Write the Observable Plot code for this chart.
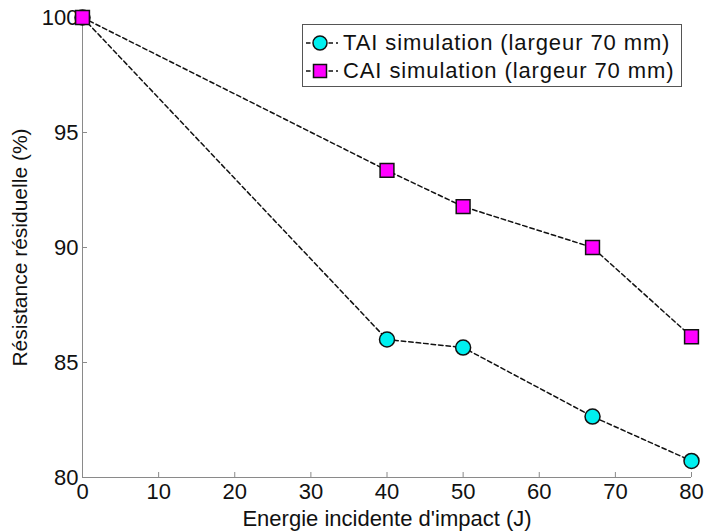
<!DOCTYPE html>
<html><head><meta charset="utf-8">
<script src="https://cdn.jsdelivr.net/npm/d3@7"></script>
<script src="https://cdn.jsdelivr.net/npm/@observablehq/plot@0.6"></script>
<style>
body{margin:0;background:#fff;font-family:"Liberation Sans",Arial,sans-serif;}
#wrap{position:relative;width:705px;height:531px;}
#legend{position:absolute;left:302px;top:24px;width:378px;height:61px;border:1px solid #555;background:#fff;font-size:22px;letter-spacing:0.9px;color:#111;}
#legend .row{position:absolute;left:0;height:28px;display:flex;align-items:center;}
#legend svg{display:block}
</style>
</head><body><div id="wrap"></div>
<script>
const energy = [0, 40, 50, 67, 80];
const taiValues = [100, 86.0, 85.65, 82.65, 80.72];
const caiValues = [100, 93.35, 91.78, 90.0, 86.12];
const seriesNames = ["TAI simulation (largeur 70 mm)", "CAI simulation (largeur 70 mm)"];
const xTicks = [0, 10, 20, 30, 40, 50, 60, 70, 80];
const yTicks = [80, 85, 90, 95, 100];

const tai = energy.map((e, i) => ({x: e, y: taiValues[i]}));
const cai = energy.map((e, i) => ({x: e, y: caiValues[i]}));
const axisColor = "#8a8a8a";

const chart = Plot.plot({
  width: 705, height: 531,
  marginLeft: 82, marginRight: 14, marginTop: 17, marginBottom: 54,
  style: {fontFamily: '"Liberation Sans", Arial, sans-serif', fontSize: "22px", color: "#111", background: "#fff"},
  x: {domain: [0, 80]},
  y: {domain: [80, 100]},
  marks: [
    Plot.ruleY([80], {stroke: axisColor, strokeWidth: 1}),
    Plot.ruleX([0], {stroke: axisColor, strokeWidth: 1}),
    Plot.axisX({ticks: xTicks, tickSize: 5, text: null, dy: -5, stroke: axisColor, label: null}),
    Plot.axisY({ticks: yTicks, tickSize: 5, text: null, dx: 5, stroke: axisColor, label: null}),
    Plot.axisX({ticks: xTicks, tickSize: 0, tickPadding: 6, fontSize: 22, fill: "#111", label: null}),
    Plot.axisX({ticks: [], tickSize: 0, fontSize: 22, fill: "#111", label: "Energie incidente d'impact (J)", labelAnchor: "center", labelArrow: "none", labelOffset: 48, ariaLabel: "x-label"}),
    Plot.axisY({ticks: yTicks, tickSize: 0, tickPadding: 4, fontSize: 22, fill: "#111", label: null}),
    Plot.axisY({ticks: [], tickSize: 0, fontSize: 21, fill: "#111", label: "Résistance résiduelle (%)", labelAnchor: "center", labelArrow: "none", labelOffset: 70}),
    Plot.line(tai, {x: "x", y: "y", stroke: "#111", strokeWidth: 1.5, strokeDasharray: "4.5,3"}),
    Plot.line(cai, {x: "x", y: "y", stroke: "#111", strokeWidth: 1.5, strokeDasharray: "4.5,3"}),
    Plot.dot(tai, {x: "x", y: "y", r: 7.5, fill: "#00f0f0", stroke: "#111", strokeWidth: 1.5}),
    Plot.dot(cai, {x: "x", y: "y", r: 7.8, symbol: "square", fill: "#ff00ff", stroke: "#111", strokeWidth: 1.5})
  ]
});
const wrap = document.getElementById("wrap");
wrap.appendChild(chart);
chart.querySelectorAll('[aria-label="x-label"] text').forEach(t => t.setAttribute("letter-spacing", "0.7"));

const legend = document.createElement("div");
legend.id = "legend";
const mk = (i) => {
  const row = document.createElement("div");
  row.className = "row";
  row.style.top = (i === 0 ? 4 : 32) + "px";
  const marker = i === 0
    ? '<circle cx="17" cy="14" r="7" fill="#00f0f0" stroke="#111" stroke-width="1.5"/>'
    : '<rect x="10.5" y="7.5" width="13" height="13" fill="#ff00ff" stroke="#111" stroke-width="1.5"/>';
  row.innerHTML = '<svg width="38" height="28"><line x1="3" x2="35" y1="14" y2="14" stroke="#111" stroke-width="1.5" stroke-dasharray="4.5,3"/>' + marker + '</svg><span style="margin-left:2px">' + seriesNames[i] + '</span>';
  legend.appendChild(row);
};
mk(0); mk(1);
wrap.appendChild(legend);
</script>
</body></html>
